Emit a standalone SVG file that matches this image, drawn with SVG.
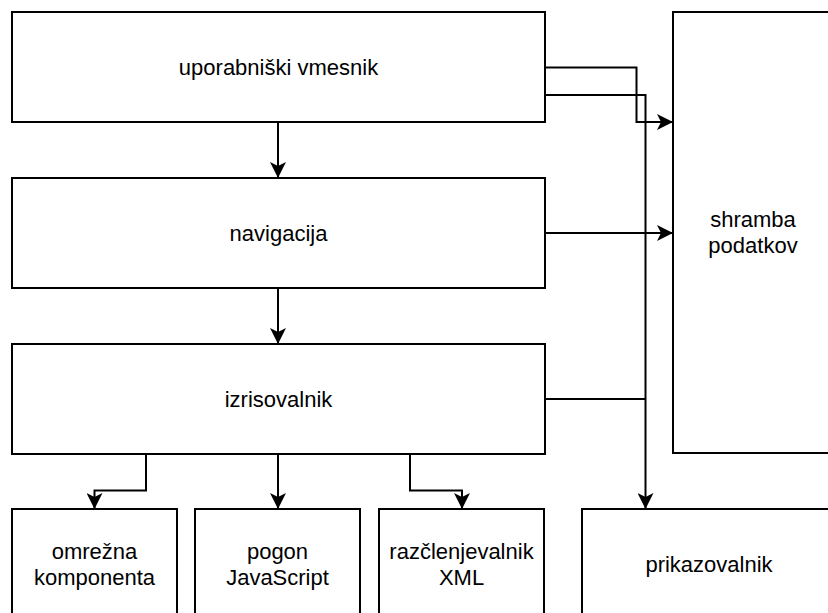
<svg xmlns="http://www.w3.org/2000/svg" width="828" height="613" viewBox="0 0 828 613">
  <style>
    .box { fill: #ffffff; stroke: #000000; stroke-width: 2; }
    .lbl { font-family: "Liberation Sans", Arial, Helvetica, sans-serif; font-size: 22px; fill: #000000; text-anchor: middle; }
    .edge { fill: none; stroke: #000000; stroke-width: 2; }
  </style>
  <defs>
    <marker id="arrow" markerUnits="userSpaceOnUse" markerWidth="16" markerHeight="16" refX="16" refY="8" orient="auto" viewBox="0 0 16 16">
      <path d="M16,8 L0,0 L4,8 L0,16 Z" fill="#000000"/>
    </marker>
  </defs>
  <rect width="828" height="613" fill="#ffffff"/>

  <g id="connectors">
    <path class="edge" d="M278,122 V178" marker-end="url(#arrow)"/>
    <path class="edge" d="M278,288 V344" marker-end="url(#arrow)"/>
    <path class="edge" d="M146,454 V490.5 H94.5 V509" marker-end="url(#arrow)"/>
    <path class="edge" d="M278,454 V509" marker-end="url(#arrow)"/>
    <path class="edge" d="M410,454 V490.5 H462 V509" marker-end="url(#arrow)"/>
    <path class="edge" d="M545,67.5 H636.5 V122 H673" marker-end="url(#arrow)"/>
    <path class="edge" d="M545,95 H645.5 V509" marker-end="url(#arrow)"/>
    <path class="edge" d="M545,233 H673" marker-end="url(#arrow)"/>
    <path class="edge" d="M545,399 H645.5"/>
  </g>

  <g id="uporabniski-vmesnik">
    <rect class="box" x="12" y="12" width="533" height="110"/>
    <text class="lbl" x="278.5" y="75">uporabniški vmesnik</text>
  </g>
  <g id="navigacija">
    <rect class="box" x="12" y="178" width="533" height="110"/>
    <text class="lbl" x="278.5" y="241">navigacija</text>
  </g>
  <g id="izrisovalnik">
    <rect class="box" x="12" y="344" width="533" height="110"/>
    <text class="lbl" x="278.5" y="407">izrisovalnik</text>
  </g>
  <g id="shramba-podatkov">
    <rect class="box" x="673" y="12" width="160" height="441"/>
    <text class="lbl" x="753" y="227">shramba</text>
    <text class="lbl" x="753" y="253">podatkov</text>
  </g>
  <g id="omrezna-komponenta">
    <rect class="box" x="12" y="509" width="165" height="110"/>
    <text class="lbl" x="94.5" y="559">omrežna</text>
    <text class="lbl" x="94.5" y="585">komponenta</text>
  </g>
  <g id="pogon-javascript">
    <rect class="box" x="195" y="509" width="165" height="110"/>
    <text class="lbl" x="277.5" y="559">pogon</text>
    <text class="lbl" x="277.5" y="585">JavaScript</text>
  </g>
  <g id="razclenjevalnik-xml">
    <rect class="box" x="379" y="509" width="165" height="110"/>
    <text class="lbl" x="461.5" y="559">razčlenjevalnik</text>
    <text class="lbl" x="461.5" y="585">XML</text>
  </g>
  <g id="prikazovalnik">
    <rect class="box" x="582" y="509" width="254" height="110"/>
    <text class="lbl" x="709" y="572">prikazovalnik</text>
  </g>
</svg>
